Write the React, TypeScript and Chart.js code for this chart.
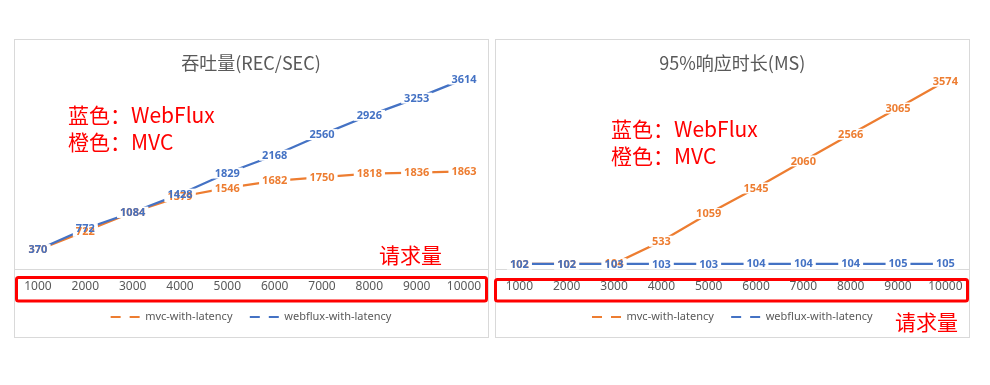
import React, { useEffect, useRef } from "react";
import { Chart, registerables } from "chart.js";

Chart.register(...registerables);

// ---------- data ----------
const categories = ["1000", "2000", "3000", "4000", "5000", "6000", "7000", "8000", "9000", "10000"];
const seriesNames = ["mvc-with-latency", "webflux-with-latency"];

const throughputMvc = [370, 722, 1084, 1379, 1546, 1682, 1750, 1818, 1836, 1863];
const throughputWebflux = [370, 772, 1084, 1428, 1829, 2168, 2560, 2926, 3253, 3614];

const latencyMvc = [102, 102, 104, 533, 1059, 1545, 2060, 2566, 3065, 3574];
const latencyWebflux = [102, 102, 103, 103, 103, 104, 104, 104, 105, 105];

const chartTitles = ["吞吐量(REC/SEC)", "95%响应时长(MS)"];
const noteBlue = "蓝色：WebFlux";
const noteOrange = "橙色：MVC";
const noteAxis = "请求量";

// ---------- styles ----------
const ORANGE = "#ED7D31";
const BLUE = "#4472C4";
const GREY_TEXT = "#595959";
const RED = "#FF0000";
const CANVAS_W = 484;
const CANVAS_H = 310;
const CANVAS_TOP = 34;
const Y_MAX = 3662;

type Panel = {
  left: number;
  title: string;
  mvc: number[];
  webflux: number[];
  padL: number;
  padR: number;
  box: [number, number, number, number];
  redRect: [number, number, number, number];
  noteX: number;
  noteY: number;
  axisNoteX: number;
  axisNoteY: number;
};

const panels: Panel[] = [
  {
    left: 8,
    title: chartTitles[0],
    mvc: throughputMvc,
    webflux: throughputWebflux,
    padL: 6.3,
    padR: 4.3,
    box: [14.5, 39.5, 474, 298],
    redRect: [16.5, 277.5, 470, 23.5],
    noteX: 68,
    noteY: 115,
    axisNoteX: 379,
    axisNoteY: 255.5,
  },
  {
    left: 490,
    title: chartTitles[1],
    mvc: latencyMvc,
    webflux: latencyWebflux,
    padL: 5.7,
    padR: 5,
    box: [495.5, 39.5, 474, 298],
    redRect: [495.5, 279.5, 472, 21.5],
    noteX: 611,
    noteY: 129,
    axisNoteX: 895,
    axisNoteY: 322,
  },
];

const valueLabelPlugin = {
  id: "valueLabels",
  afterDatasetsDraw(chart: any) {
    const ctx = chart.ctx;
    ctx.save();
    ctx.font = 'bold 11px "Noto Sans", sans-serif';
    ctx.textAlign = "center";
    ctx.textBaseline = "middle";
    const items: { x: number; y: number; text: string; color: string }[] = [];
    chart.data.datasets.forEach((ds: any, di: number) => {
      const meta = chart.getDatasetMeta(di);
      meta.data.forEach((pt: any, i: number) => {
        items.push({ x: pt.x, y: pt.y, text: String(ds.data[i]), color: ds.borderColor });
      });
    });
    ctx.fillStyle = "#ffffff";
    items.forEach((it) => {
      const w = ctx.measureText(it.text).width;
      ctx.fillRect(it.x - w / 2 - 3, it.y - 5.5, w + 6, 11);
    });
    items.forEach((it) => {
      ctx.fillStyle = it.color;
      ctx.fillText(it.text, it.x, it.y + 0.5);
    });
    ctx.restore();
  },
};

function makeDecorPlugin(p: Panel) {
  const ox = p.left;
  const oy = CANVAS_TOP;
  return {
    id: "decor",
    beforeDraw(chart: any) {
      const ctx = chart.ctx;
      ctx.save();
      ctx.fillStyle = "#ffffff";
      ctx.fillRect(0, 0, chart.width, chart.height);
      ctx.strokeStyle = "#d9d9d9";
      ctx.lineWidth = 1;
      ctx.strokeRect(p.box[0] - ox, p.box[1] - oy, p.box[2], p.box[3]);
      ctx.restore();
    },
    afterDraw(chart: any) {
      const ctx = chart.ctx;
      ctx.save();
      ctx.strokeStyle = RED;
      ctx.lineWidth = 3;
      ctx.beginPath();
      (ctx as any).roundRect(p.redRect[0] - ox, p.redRect[1] - oy, p.redRect[2], p.redRect[3], 2);
      ctx.stroke();
      ctx.fillStyle = RED;
      ctx.font = '21px "Noto Sans CJK SC", sans-serif';
      ctx.textAlign = "left";
      ctx.textBaseline = "middle";
      ctx.fillText(noteBlue, p.noteX - ox, p.noteY - oy);
      ctx.fillText(noteOrange, p.noteX - ox, p.noteY + 27.5 - oy);
      ctx.fillText(noteAxis, p.axisNoteX - ox, p.axisNoteY - oy);
      ctx.restore();
    },
  };
}

function PanelChart({ p }: { p: Panel }) {
  const ref = useRef<HTMLCanvasElement | null>(null);
  useEffect(() => {
    if (!ref.current) return;
    const chart = new Chart(ref.current, {
      type: "line",
      data: {
        labels: categories,
        datasets: [
          {
            label: seriesNames[0],
            data: p.mvc,
            borderColor: ORANGE,
            backgroundColor: ORANGE,
            borderWidth: 2.25,
            pointRadius: 0,
            tension: 0,
            order: 1,
          },
          {
            label: seriesNames[1],
            data: p.webflux,
            borderColor: BLUE,
            backgroundColor: BLUE,
            borderWidth: 2.25,
            pointRadius: 0,
            tension: 0,
            order: 0,
          },
        ],
      },
      options: {
        responsive: false,
        animation: false,
        layout: { padding: { left: p.padL, right: p.padR, top: 5, bottom: 11.5 } },
        scales: {
          x: {
            type: "category",
            offset: true,
            grid: { display: true, drawOnChartArea: false, drawTicks: true, tickLength: 10.5, color: "rgba(0,0,0,0)" },
            border: { display: true, color: "#d9d9d9", width: 1 },
            ticks: {
              padding: 0,
              color: GREY_TEXT,
              font: { family: '"Noto Sans", sans-serif', size: 12 },
              maxRotation: 0,
              autoSkip: false,
            },
          },
          y: {
            display: false,
            min: 0,
            max: Y_MAX,
          },
        },
        plugins: {
          title: {
            display: true,
            text: p.title,
            color: GREY_TEXT,
            font: { family: '"Noto Sans CJK SC", sans-serif', size: 18, weight: "normal" },
            padding: { top: 13.2, bottom: 2.8 },
          },
          legend: {
            display: true,
            position: "bottom",
            labels: {
              usePointStyle: true,
              pointStyleWidth: 29,
              boxHeight: 11,
              padding: 17.3,
              color: GREY_TEXT,
              font: { family: '"Noto Sans", sans-serif', size: 11 },
              generateLabels: (c: any) =>
                c.data.datasets.map((ds: any, i: number) => ({
                  text: ds.label,
                  fillStyle: ds.borderColor,
                  strokeStyle: ds.borderColor,
                  lineWidth: 2,
                  lineDash: [10, 9],
                  lineCap: "butt",
                  pointStyle: "line",
                  hidden: false,
                  datasetIndex: i,
                  fontColor: GREY_TEXT,
                })),
            },
          },
          tooltip: { enabled: false },
        },
      },
      plugins: [valueLabelPlugin, makeDecorPlugin(p)],
    } as any);
    return () => chart.destroy();
  }, []);
  return (
    <canvas
      ref={ref}
      width={CANVAS_W}
      height={CANVAS_H}
      style={{ position: "absolute", left: p.left, top: CANVAS_TOP, width: CANVAS_W, height: CANVAS_H }}
    />
  );
}

export default function App() {
  return (
    <div style={{ position: "absolute", left: 0, top: 0, width: 990, height: 385, background: "#ffffff", overflow: "hidden" }}>
      {panels.map((p, i) => (
        <PanelChart key={i} p={p} />
      ))}
    </div>
  );
}
